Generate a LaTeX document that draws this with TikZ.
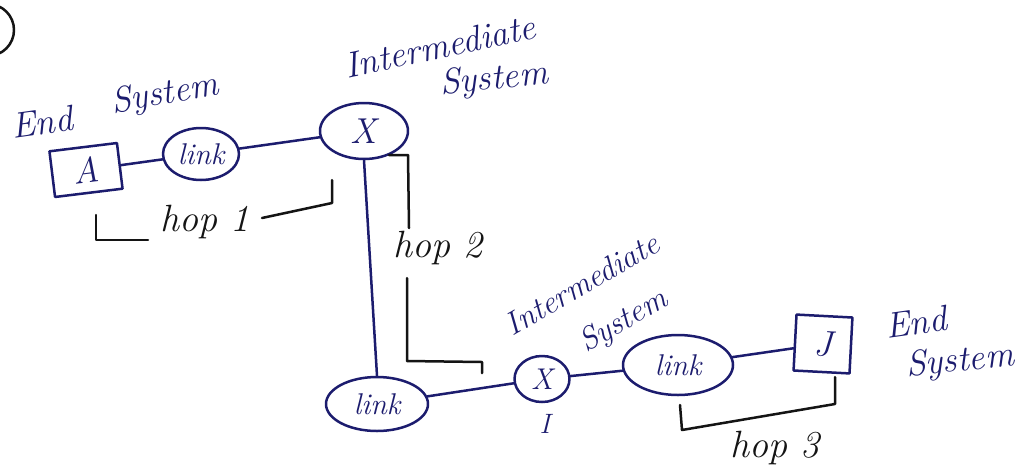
\documentclass[tikz,border=0pt]{standalone}
\usetikzlibrary{shapes.geometric}
\definecolor{ink}{RGB}{28,28,110}
\definecolor{pencil}{RGB}{20,20,20}
\tikzset{
  pen/.style={draw=ink, line width=2.5pt, line cap=round, line join=round},
  wire/.style={pen},
  bracket/.style={draw=pencil, line width=2.5pt, line cap=round, line join=round},
  linkel/.style={ellipse, pen, inner sep=0pt, text=ink, font=\fontsize{30}{32}\selectfont\itshape},
  hostbox/.style={rectangle, pen, inner sep=0pt, text=ink, font=\fontsize{36}{38}\selectfont\itshape},
  inktext/.style={text=ink, inner sep=0pt, font=\fontsize{36}{38}\selectfont\itshape},
  hoptext/.style={text=pencil, inner sep=0pt, font=\fontsize{38}{40}\selectfont\itshape}
}
\begin{document}
\begin{tikzpicture}[x=1pt, y=-1pt]
\useasboundingbox (0,0) rectangle (1029,475);
\fill[white] (0,0) rectangle (1029,475);
\clip (0,0) rectangle (1029,475);

% circled item number at the top-left corner (mostly off the page)
\draw[pen, draw=pencil] (-12,30) circle (26);

% end system A and its link
\node[hostbox, minimum width=68, minimum height=46, rotate=7] (A) at (86,170) {A};
\node[linkel, minimum width=76, minimum height=52] (l1) at (201,154) {link};
\node[linkel, minimum width=88, minimum height=56, font=\fontsize{36}{38}\selectfont\itshape] (X1) at (364,131) {X};

% lower chain
\node[linkel, minimum width=102, minimum height=54] (l2) at (377,404) {link};
\node[linkel, minimum width=55, minimum height=46, font=\fontsize{30}{32}\selectfont\itshape] (X2) at (542,379) {X};
\node[linkel, minimum width=110, minimum height=60] (l3) at (678,365) {link};
\node[hostbox, minimum width=56, minimum height=56, rotate=-3] (J) at (823,344) {J};

% connectors
\draw[wire] (A) -- (l1);
\draw[wire] (l1) -- (X1);
\draw[wire] (X1.south) -- (l2.north);
\draw[wire] (l2) -- (X2);
\draw[wire] (X2) -- (l3);
\draw[wire] (l3) -- (J);

% labels
\node[inktext, rotate=8] (es1a) at (42,122) {End};
\node[inktext, rotate=10] (es1b) at (165,95) {System};
\node[inktext, rotate=12] (is1a) at (440,46) {Intermediate};
\node[inktext, rotate=6] (is1b) at (494,80) {System};
\node[inktext, rotate=30, font=\fontsize{32}{34}\selectfont\itshape] (is2a) at (582,284) {Intermediate};
\node[inktext, rotate=30, font=\fontsize{32}{34}\selectfont\itshape] (is2b) at (624,322) {System};
\node[inktext, font=\fontsize{28}{30}\selectfont\itshape] (I) at (545,424) {I};
\node[inktext, rotate=8] (es2a) at (916,322) {End};
\node[inktext, rotate=6] (es2b) at (960,362) {System};

% hop 1
\node[hoptext] (h1) at (205,222) {hop 1};
\coordinate (h1l) at (96,215);
\coordinate (h1r) at (332,180);
\draw[bracket] (h1l) -- (96,240) -- (148,240);
\draw[bracket] (262,218) -- (332,203) -- (h1r);

% hop 2
\node[hoptext] (h2) at (438,248) {hop 2};
\coordinate (h2t) at (389,155);
\coordinate (h2e) at (482,373);
\draw[bracket] (h2t) -- (408,155) -- (409,228);
\draw[bracket] (407,278) -- (407,361) -- (482,362) -- (h2e);

% hop 3
\node[hoptext] (h3) at (775,448) {hop 3};
\coordinate (h3l) at (680,405);
\coordinate (h3r) at (835,377);
\draw[bracket] (h3l) -- (682,430) -- (835,404) -- (h3r);
\end{tikzpicture}
\end{document}
